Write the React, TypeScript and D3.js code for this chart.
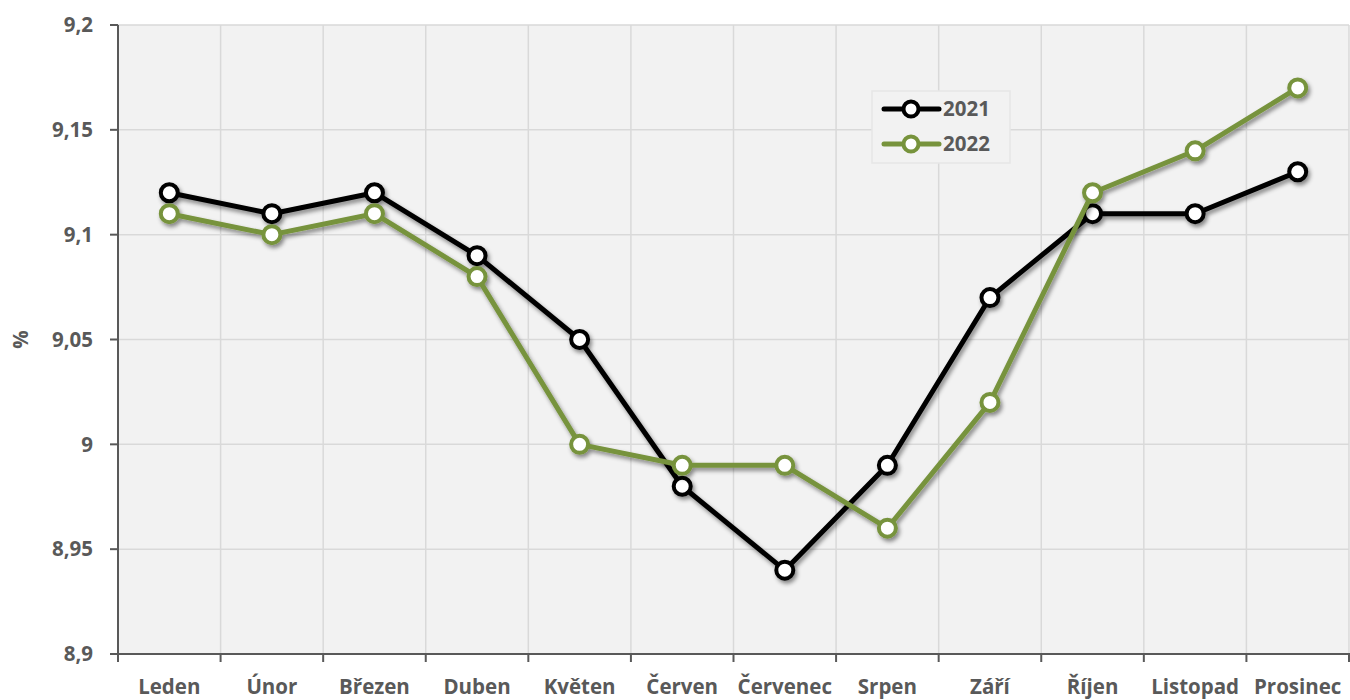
import React from "react";
import * as d3 from "d3";

const months = ["Leden", "Únor", "Březen", "Duben", "Květen", "Červen", "Červenec", "Srpen", "Září", "Říjen", "Listopad", "Prosinec"];
const values2021 = [9.12, 9.11, 9.12, 9.09, 9.05, 8.98, 8.94, 8.99, 9.07, 9.11, 9.11, 9.13];
const values2022 = [9.11, 9.10, 9.11, 9.08, 9.00, 8.99, 8.99, 8.96, 9.02, 9.12, 9.14, 9.17];
const yTicks = [8.9, 8.95, 9, 9.05, 9.1, 9.15, 9.2];
const seriesNames = ["2021", "2022"];

const W = 1350, H = 700;
const left = 118, right = 1349, top = 25, bottom = 654;
const colors = ["#000000", "#77933c"];
const textColor = "#595959";
const font = "'Open Sans', sans-serif";
const fs = 20.5;

export default function App() {
  const x = d3.scaleBand<string>().domain(months).range([left, right]);
  const y = d3.scaleLinear().domain([8.9, 9.2]).range([bottom, top]);
  const line = d3.line<number>().x((_, i) => (x(months[i]) as number) + x.bandwidth() / 2).y(d => y(d));
  const fmt = (v: number) => String(+v.toFixed(2)).replace(".", ",");
  const series = [values2021, values2022];
  const bounds = months.map(m => x(m) as number).concat([right]);

  return (
    <svg width={W} height={H} style={{ position: "absolute", left: 0, top: 0, fontFamily: font }}>
      <defs>
        <filter id="sh" x="-10%" y="-10%" width="120%" height="130%">
          <feDropShadow dx="2" dy="3" stdDeviation="2" floodColor="#000" floodOpacity="0.45" />
        </filter>
      </defs>
      <rect x={left} y={top} width={right - left} height={bottom - top} fill="#f2f2f2" />
      {yTicks.map(t => (
        <line key={"gy" + t} x1={left} x2={right} y1={y(t)} y2={y(t)} stroke="#d9d9d9" strokeWidth={1.5} />
      ))}
      {bounds.slice(1).map((b, i) => (
        <line key={"gx" + i} x1={b} x2={b} y1={top} y2={bottom} stroke="#d9d9d9" strokeWidth={1.5} />
      ))}
      <line x1={left} x2={left} y1={top} y2={bottom} stroke={textColor} strokeWidth={2} />
      <line x1={left} x2={right + 1} y1={bottom} y2={bottom} stroke={textColor} strokeWidth={2} />
      {yTicks.map(t => (
        <g key={"ty" + t}>
          <line x1={left - 8} x2={left} y1={y(t)} y2={y(t)} stroke={textColor} strokeWidth={2} />
          <text x={93} y={y(t)} dy="0.35em" textAnchor="end" fill={textColor} fontSize={fs} fontWeight="bold">{fmt(t)}</text>
        </g>
      ))}
      {bounds.map((b, i) => (
        <line key={"tx" + i} x1={b} x2={b} y1={bottom} y2={bottom + 8} stroke={textColor} strokeWidth={2} />
      ))}
      {months.map(m => (
        <text key={"lx" + m} x={(x(m) as number) + x.bandwidth() / 2} y={694} textAnchor="middle" fill={textColor} fontSize={fs} fontWeight="bold">{m}</text>
      ))}
      <text transform={`translate(28,${(top + bottom) / 2}) rotate(-90)`} textAnchor="middle" fill={textColor} fontSize={fs} fontWeight="bold">%</text>
      {series.map((s, si) => (
        <g key={"s" + si} filter="url(#sh)">
          <path d={line(s) || ""} fill="none" stroke={colors[si]} strokeWidth={5} strokeLinejoin="round" />
          {s.map((v, i) => (
            <circle key={i} cx={(x(months[i]) as number) + x.bandwidth() / 2} cy={y(v)} r={8.5} fill="#fff" stroke={colors[si]} strokeWidth={4} />
          ))}
        </g>
      ))}
      <rect x={872} y={91} width={138} height={72} fill="#f2f2f2" stroke="#e6e6e6" strokeWidth={1.5} />
      {seriesNames.map((n, i) => (
        <g key={"lg" + n}>
          <line x1={884} x2={939} y1={109 + i * 35} y2={109 + i * 35} stroke={colors[i]} strokeWidth={5} strokeLinecap="round" />
          <circle cx={911} cy={109 + i * 35} r={7.5} fill="#fff" stroke={colors[i]} strokeWidth={4} />
          <text x={943} y={109 + i * 35} dy="0.35em" fill={textColor} fontSize={fs} fontWeight="bold">{n}</text>
        </g>
      ))}
    </svg>
  );
}
